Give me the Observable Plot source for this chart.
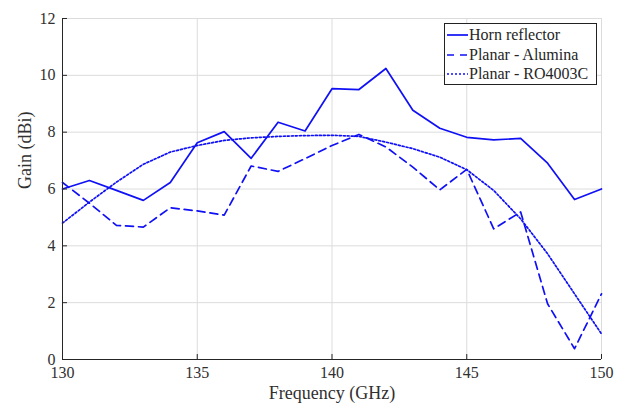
<!DOCTYPE html>
<html>
<head>
<meta charset="utf-8">
<script src="https://cdn.jsdelivr.net/npm/d3@7"></script>
<script src="https://cdn.jsdelivr.net/npm/@observablehq/plot@0.6"></script>
<style>
  html, body { margin: 0; padding: 0; background: #fff; }
  #wrap { position: relative; width: 627px; height: 410px; font-family: "Liberation Serif", Tinos, "DejaVu Serif", serif; }
  #wrap svg, #wrap svg text { font-family: "Liberation Serif", Tinos, "DejaVu Serif", serif !important; }
  #legend { position: absolute; left: 444px; top: 23px; width: 153px; height: 62px; border: 1px solid #222; background: #fff; box-sizing: border-box; font-size: 16px; color: #262626; white-space: nowrap; padding-top: 1px; }
  .row { display: flex; align-items: center; height: 19.7px; }
  .row svg { flex: none; margin-left: 1px; margin-right: 1px; }
</style>
</head>
<body>
<div id="wrap"></div>
<script>
const freq = [130,131,132,133,134,135,136,137,138,139,140,141,142,143,144,145,146,147,148,149,150];
const horn = [6.0,6.3,5.95,5.6,6.23,7.63,8.02,7.08,8.35,8.04,9.53,9.5,10.24,8.77,8.14,7.82,7.73,7.78,6.91,5.63,6.0];
const alumina = [6.23,5.5,4.72,4.66,5.34,5.23,5.08,6.81,6.62,7.07,7.53,7.92,7.48,6.77,5.97,6.69,4.6,5.19,1.96,0.38,2.31];
const ro4003c = [4.8,5.54,6.24,6.87,7.3,7.53,7.71,7.8,7.85,7.88,7.89,7.85,7.65,7.42,7.12,6.68,5.95,4.95,3.72,2.31,0.9];
const seriesNames = ["Horn reflector", "Planar - Alumina", "Planar - RO4003C"];
const xTicks = [130,135,140,145,150];
const yTicks = [0,2,4,6,8,10,12];

const color = "#1010f5";
const dashes = [null, "8,5", "2,2"];
const widths = [1.7, 1.7, 1.7];
const series = [horn, alumina, ro4003c];
const rows = [];
series.forEach((vals, s) => vals.forEach((v, i) => rows.push({f: freq[i], g: v, s: seriesNames[s]})));

const font = "'Liberation Serif', Tinos, 'DejaVu Serif', serif";
const lineMarks = seriesNames.map((name, s) =>
  Plot.line(rows.filter(d => d.s === name), {x: "f", y: "g", stroke: color, strokeWidth: widths[s], strokeDasharray: dashes[s]})
);

const chart = Plot.plot({
  width: 627,
  height: 410,
  marginLeft: 62,
  marginRight: 26,
  marginTop: 18,
  marginBottom: 51,
  style: {fontFamily: font, fontSize: "16px", color: "#262626", background: "#fff"},
  x: {domain: [130, 150]},
  y: {domain: [0, 12]},
  marks: [
    Plot.gridX(xTicks, {stroke: "#dcdcdc", strokeOpacity: 1}),
    Plot.gridY(yTicks, {stroke: "#dcdcdc", strokeOpacity: 1}),
    Plot.ruleY([12], {stroke: "#dcdcdc"}),
    Plot.ruleX([150], {stroke: "#dcdcdc"}),
    ...lineMarks,
    Plot.axisX(xTicks, {tickSize: -5, text: null, label: null, stroke: "#262626"}),
    Plot.axisY(yTicks, {tickSize: -5, text: null, label: null, stroke: "#262626"}),
    Plot.axisX(xTicks, {tickSize: 0, tickPadding: 7, label: null, fill: "#303030", fontSize: 16}),
    Plot.axisY(yTicks, {tickSize: 0, tickPadding: 7, label: null, fill: "#303030", fontSize: 16}),
    Plot.ruleY([0], {stroke: "#262626", strokeWidth: 1}),
    Plot.ruleX([130], {stroke: "#262626", strokeWidth: 1}),
    Plot.text(["Frequency (GHz)"], {frameAnchor: "bottom", dy: 39, fontSize: 18, fill: "#303030"}),
    Plot.text(["Gain (dBi)"], {frameAnchor: "left", dx: -37, rotate: -90, fontSize: 18, fill: "#303030"})
  ]
});

const wrap = document.getElementById("wrap");
wrap.appendChild(chart);

const legend = document.createElement("div");
legend.id = "legend";
seriesNames.forEach((name, s) => {
  const row = document.createElement("div");
  row.className = "row";
  const svg = `<svg width="22" height="10"><line x1="1" y1="5" x2="22" y2="5" stroke="${color}" stroke-width="${widths[s]}" ${dashes[s] ? `stroke-dasharray="${s===1 ? '7,6' : '2,2'}"` : ""}/></svg>`;
  row.innerHTML = svg + `<span>${name}</span>`;
  legend.appendChild(row);
});
wrap.appendChild(legend);
</script>
</body>
</html>
